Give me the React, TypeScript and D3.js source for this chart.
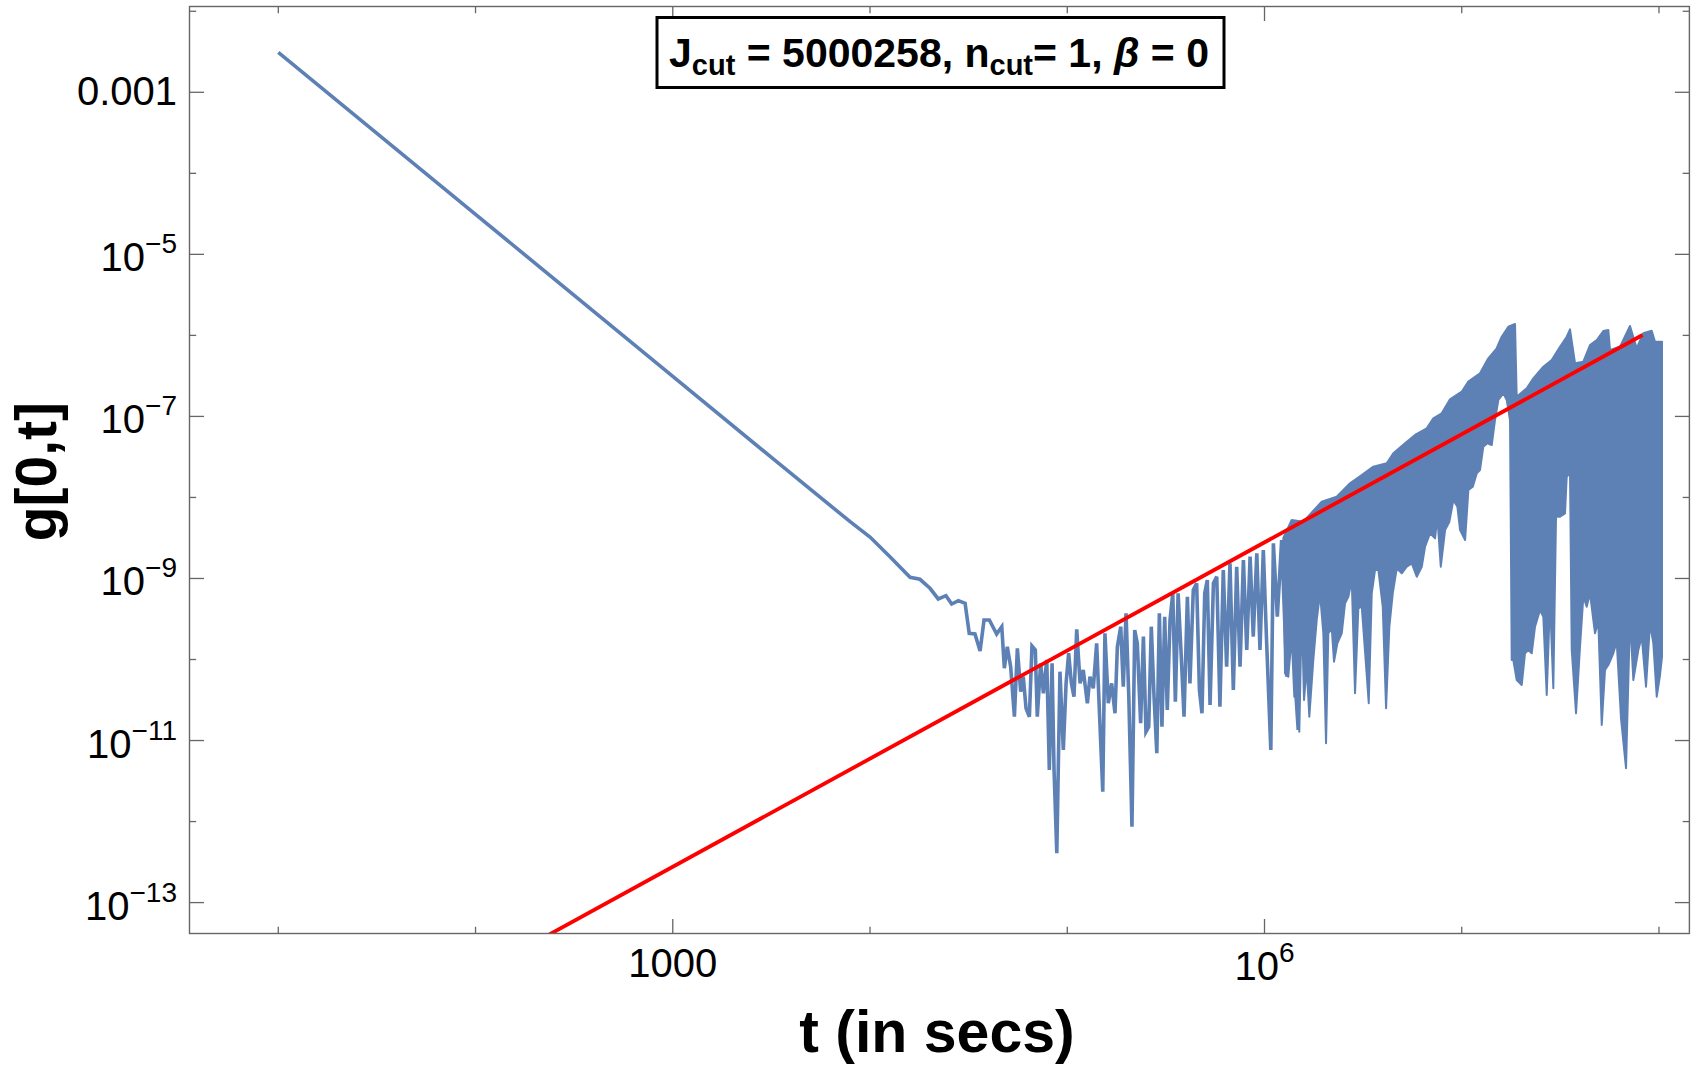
import React from "react";
import * as d3 from "d3";

const W = 1698;
const H = 1074;
const PL = 189.5;
const PR = 1689.4;
const PT = 6.5;
const PB = 933.5;
const FONT = "'Liberation Sans', Arial, Helvetica, sans-serif";
const BLUE = "#5E81B5";

// ---- data (log10 t, log10 g) ----
const decayLogT = [1.0, 2.0, 3.0, 3.5, 3.899];
const decayLogG = [-2.506, -4.506, -6.506, -7.506, -8.299];

const noisyLogT = [
  4.000, 4.101, 4.203, 4.253, 4.304, 4.346, 4.385, 4.414, 4.448, 4.482,
  4.503, 4.532, 4.558, 4.578, 4.605, 4.642, 4.668, 4.681, 4.696, 4.713,
  4.732, 4.747, 4.764, 4.777, 4.791, 4.808, 4.821, 4.838, 4.848, 4.865,
  4.879, 4.896, 4.909, 4.923, 4.933, 4.947, 4.963, 4.980, 4.994, 5.007,
  5.021, 5.034, 5.048, 5.065, 5.081, 5.102, 5.115, 5.132, 5.149, 5.162,
  5.180, 5.191, 5.208, 5.225, 5.242, 5.254, 5.271, 5.284, 5.298, 5.312,
  5.328, 5.342, 5.355, 5.372, 5.386, 5.399, 5.413, 5.426, 5.440, 5.454,
  5.467, 5.480, 5.494, 5.507, 5.521, 5.535, 5.548, 5.562, 5.578, 5.592,
  5.609, 5.622, 5.639, 5.656, 5.670, 5.683, 5.697, 5.710, 5.724, 5.741,
  5.758, 5.774, 5.791, 5.808, 5.825, 5.842, 5.859, 5.876, 5.893, 5.910,
  5.927, 5.943, 5.961, 5.977, 5.994, 6.011, 6.032, 6.045, 6.065, 6.087,
  6.113, 6.143, 6.160, 6.171,
];
const noisyLogG = [
  -8.488, -8.731, -8.985, -9.010, -9.121, -9.253, -9.212, -9.315, -9.274, -9.306,
  -9.677, -9.685, -9.895, -9.512, -9.512, -9.685, -9.595, -10.108, -9.842, -10.089,
  -10.706, -9.862, -10.397, -10.212, -10.602, -10.706, -9.833, -9.883, -10.706, -10.047,
  -10.417, -10.006, -11.363, -10.047, -11.363, -12.391, -10.150, -11.117, -10.294, -9.923,
  -10.294, -10.459, -9.627, -10.294, -10.129, -10.540, -10.212, -10.355, -9.800, -10.582,
  -11.631, -9.677, -10.540, -10.294, -10.664, -9.842, -9.595, -10.335, -9.430, -10.459,
  -12.063, -9.636, -9.800, -10.787, -9.718, -10.891, -10.829, -9.595, -10.459, -11.157,
  -9.430, -10.829, -9.472, -10.623, -9.512, -9.183, -10.521, -9.183, -9.965, -10.706,
  -9.225, -10.294, -9.142, -9.059, -10.376, -10.664, -9.183, -9.019, -10.561, -9.059,
  -8.978, -10.582, -8.895, -10.089, -8.813, -10.376, -8.855, -10.089, -8.772, -9.883,
  -8.731, -9.718, -8.689, -9.883, -8.648, -9.800, -11.117, -8.566, -9.472, -8.525,
  -10.212, -8.278, -10.459, -10.870,
];

// dense oscillation band: upper envelope
const bandTopLogT = [
  6.0954, 6.1380, 6.1968, 6.2900, 6.3661, 6.4335, 6.4928, 6.5517, 6.6196, 6.6531,
  6.7124, 6.7631, 6.8224, 6.8559, 6.8984, 6.9405, 6.9998, 7.0333, 7.0926, 7.1347,
  7.1773, 7.2026, 7.2361, 7.2701, 7.2787, 7.3294, 7.3629, 7.4136, 7.4561, 7.4982,
  7.5322, 7.5489, 7.5743, 7.6164, 7.6503, 7.6843, 7.7178, 7.7431, 7.7517, 7.8024,
  7.8531, 7.8871, 7.9206, 7.9631, 7.9799, 8.0139, 8.0154,
];
const bandTopLogG = [
  -8.500, -8.278, -8.299, -8.052, -7.991, -7.825, -7.723, -7.620, -7.578, -7.455,
  -7.332, -7.229, -7.147, -7.023, -6.961, -6.789, -6.695, -6.571, -6.468, -6.283,
  -6.159, -6.016, -5.893, -5.859, -6.757, -6.653, -6.530, -6.386, -6.304, -6.140,
  -6.016, -5.925, -6.344, -6.325, -6.119, -6.057, -5.946, -5.933, -6.180, -6.140,
  -5.884, -6.159, -5.974, -5.942, -6.078, -6.078, -6.078,
];
// dense oscillation band: lower edge with dips
const bandBottomLogT = [
  6.1039, 6.1207, 6.1380, 6.1511, 6.1633, 6.1765, 6.1887, 6.2004, 6.2140, 6.2272,
  6.2475, 6.2648, 6.2815, 6.2983, 6.3120, 6.3236, 6.3409, 6.3525, 6.3693, 6.3916,
  6.4083, 6.4251, 6.4423, 6.4590, 6.4758, 6.4931, 6.5098, 6.5285, 6.5437, 6.5605,
  6.5772, 6.5995, 6.6163, 6.6330, 6.6502, 6.6705, 6.6959, 6.7212, 6.7466, 6.7719,
  6.7973, 6.8140, 6.8394, 6.8647, 6.8764, 6.8937, 6.9155, 6.9373, 6.9576, 6.9779,
  6.9916, 7.0170, 7.0337, 7.0560, 7.0763, 7.0926, 7.1094, 7.1297, 7.1520, 7.1687,
  7.1855, 7.2108, 7.2281, 7.2448, 7.2534, 7.2615, 7.2787, 7.3041, 7.3208, 7.3376,
  7.3548, 7.3715, 7.3969, 7.4136, 7.4309, 7.4476, 7.4643, 7.4780, 7.4982, 7.5236,
  7.5322, 7.5489, 7.5576, 7.5794, 7.5996, 7.6164, 7.6336, 7.6503, 7.6757, 7.6924,
  7.7097, 7.7264, 7.7431, 7.7685, 7.7857, 7.8075, 7.8329, 7.8531, 7.8699, 7.8952,
  7.9125, 7.9343, 7.9546, 7.9713, 7.9886, 8.0053, 8.0154,
];
const bandBottomLogG = [
  -10.170, -10.212, -9.718, -10.459, -10.047, -10.891, -9.389, -10.500, -10.089, -10.706,
  -10.006, -9.512, -9.183, -9.677, -11.034, -9.677, -9.615, -10.027, -9.800, -9.677,
  -9.306, -9.225, -9.019, -10.417, -9.368, -9.348, -9.904, -10.540, -9.183, -8.895,
  -8.895, -9.348, -10.602, -9.595, -9.183, -8.874, -8.936, -8.855, -8.813, -8.978,
  -8.855, -8.608, -8.442, -8.504, -8.238, -8.855, -8.402, -8.299, -8.031, -8.114,
  -8.402, -8.525, -7.908, -7.867, -7.702, -7.661, -7.374, -7.332, -7.353, -7.044,
  -6.797, -6.715, -6.797, -7.044, -10.006, -10.006, -10.253, -10.314, -9.923, -9.883,
  -9.923, -9.595, -9.389, -9.472, -10.438, -9.265, -10.355, -8.238, -8.238, -8.196,
  -7.744, -7.702, -9.883, -10.664, -9.842, -9.225, -9.348, -9.183, -9.677, -9.533,
  -10.808, -10.129, -10.068, -9.923, -9.780, -10.726, -11.342, -9.472, -10.253, -9.883,
  -9.718, -10.335, -9.553, -9.800, -10.459, -10.191, -9.965,
];

// red power-law guide
const fitT = [100, 8.26e7];
const fitG = [1.28e-14, 1.01e-6];

// ticks
const xMajorTicks = [1e3, 1e6];
const xMajorBase = ["1000", "10"];
const xMajorExp = ["", "6"];
const xMinorTicks = [1e1, 1e2, 1e4, 1e5, 1e7, 1e8];
const yMajorTicks = [1e-3, 1e-5, 1e-7, 1e-9, 1e-11, 1e-13];
const yMajorBase = ["0.001", "10", "10", "10", "10", "10"];
const yMajorExp = ["", "\u22125", "\u22127", "\u22129", "\u221211", "\u221213"];
const yMinorTicks = [1e-2, 1e-4, 1e-6, 1e-8, 1e-10, 1e-12];

const xTitle = "t (in secs)";
const yTitle = "g[0,t]";

const p10 = (v: number) => Math.pow(10, v);

export default function App() {
  const x = d3.scaleLog().domain([p10(0.5498), p10(8.1542)]).range([PL, PR]);
  const y = d3.scaleLog().domain([p10(-13.3814), p10(-1.9412)]).range([PB, PT]);

  const line = d3
    .line<[number, number]>()
    .x((d) => x(d[0]))
    .y((d) => y(d[1]));

  const blueData: [number, number][] = [
    ...decayLogT.map((t, i) => [p10(t), p10(decayLogG[i])] as [number, number]),
    ...noisyLogT.map((t, i) => [p10(t), p10(noisyLogG[i])] as [number, number]),
  ];
  const bandTop: [number, number][] = bandTopLogT.map((t, i) => [p10(t), p10(bandTopLogG[i])]);
  const bandBottom: [number, number][] = bandBottomLogT.map((t, i) => [p10(t), p10(bandBottomLogG[i])]);
  const bandPath = line([...bandTop, ...bandBottom.slice().reverse()]) + "Z";
  const fitData: [number, number][] = fitT.map((t, i) => [t, fitG[i]]);

  const frameColor = "#666666";
  const MAJ = 14.5;
  const MIN = 6.7;

  return (
    <div style={{ position: "absolute", left: 0, top: 0, background: "#fff" }}>
      <svg width={W} height={H} viewBox={`0 0 ${W} ${H}`} style={{ display: "block" }}>
        <rect x={0} y={0} width={W} height={H} fill="#fff" />
        <defs>
          <clipPath id="plotclip">
            <rect x={PL} y={PT} width={PR - PL} height={PB - PT} />
          </clipPath>
        </defs>

        <g clipPath="url(#plotclip)">
          <path d={bandPath} fill={BLUE} stroke={BLUE} strokeWidth={2} strokeLinejoin="round" />
          <path d={line(blueData) || ""} fill="none" stroke={BLUE} strokeWidth={3.6} strokeLinejoin="miter" />
          <path d={line(fitData) || ""} fill="none" stroke="#FF0000" strokeWidth={3.8} />
        </g>

        {/* frame */}
        <rect x={PL} y={PT} width={PR - PL} height={PB - PT} fill="none" stroke={frameColor} strokeWidth={1.4} />

        {/* x ticks bottom & top */}
        {xMajorTicks.map((v) => (
          <g key={"xM" + v} stroke={frameColor} strokeWidth={1.3}>
            <line x1={x(v)} x2={x(v)} y1={PB} y2={PB - MAJ} />
            <line x1={x(v)} x2={x(v)} y1={PT} y2={PT + MAJ} />
          </g>
        ))}
        {xMinorTicks.map((v) => (
          <g key={"xm" + v} stroke={frameColor} strokeWidth={1.3}>
            <line x1={x(v)} x2={x(v)} y1={PB} y2={PB - MIN} />
            <line x1={x(v)} x2={x(v)} y1={PT} y2={PT + MIN} />
          </g>
        ))}
        {/* y ticks left & right */}
        {yMajorTicks.map((v) => (
          <g key={"yM" + v} stroke={frameColor} strokeWidth={1.3}>
            <line x1={PL} x2={PL + MAJ} y1={y(v)} y2={y(v)} />
            <line x1={PR} x2={PR - MAJ} y1={y(v)} y2={y(v)} />
          </g>
        ))}
        {yMinorTicks.map((v) => (
          <g key={"ym" + v} stroke={frameColor} strokeWidth={1.3}>
            <line x1={PL} x2={PL + MIN} y1={y(v)} y2={y(v)} />
            <line x1={PR} x2={PR - MIN} y1={y(v)} y2={y(v)} />
          </g>
        ))}

        {/* tick labels */}
        <g fontFamily={FONT} fill="#000">
          {xMajorTicks.map((v, i) => (
            <text key={"xl" + v} x={x(v)} y={xMajorExp[i] ? 980 : 977} textAnchor="middle" fontSize={40}>
              {xMajorBase[i]}
              {xMajorExp[i] ? (
                <tspan dy={-18} fontSize={28}>
                  {xMajorExp[i]}
                </tspan>
              ) : null}
            </text>
          ))}
          {yMajorTicks.map((v, i) => (
            <text
              key={"yl" + v}
              x={177}
              y={y(v) + (yMajorExp[i] ? 17 : 13)}
              textAnchor="end"
              fontSize={40}
            >
              {yMajorBase[i]}
              {yMajorExp[i] ? (
                <tspan dy={-18} fontSize={28}>
                  {yMajorExp[i]}
                </tspan>
              ) : null}
            </text>
          ))}
        </g>

        {/* axis titles */}
        <text x={937} y={1052} textAnchor="middle" fontFamily={FONT} fontWeight="bold" fontSize={59}>
          {xTitle}
        </text>
        <text
          transform={`translate(55.5, 471.7) rotate(-90)`}
          textAnchor="middle"
          fontFamily={FONT}
          fontWeight="bold"
          fontSize={57}
        >
          {yTitle}
        </text>

        {/* annotation box */}
        <rect x={657} y={17.5} width={567} height={70} fill="#fff" stroke="#000" strokeWidth={3} />
        <text x={939} y={67} textAnchor="middle" fontFamily={FONT} fontWeight="bold" fontSize={41}>
          <tspan>J</tspan>
          <tspan dy={8} fontSize={29}>cut</tspan>
          <tspan dy={-8}> = 5000258, n</tspan>
          <tspan dy={8} fontSize={29}>cut</tspan>
          <tspan dy={-8}>= 1, </tspan>
          <tspan fontStyle="italic">β</tspan>
          <tspan> = 0</tspan>
        </text>
      </svg>
    </div>
  );
}
